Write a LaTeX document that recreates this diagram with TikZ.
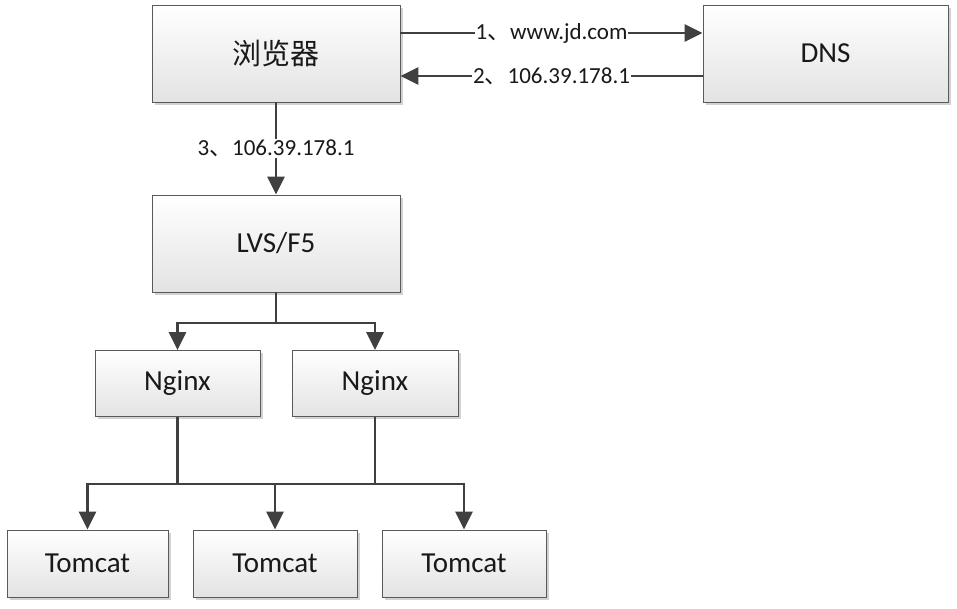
\documentclass[tikz,border=0pt]{standalone}
\usepackage{fontspec}
\setmainfont{Carlito}
\newfontfamily\cjk{Noto Sans CJK SC}
\usetikzlibrary{arrows.meta,shadows}
\begin{document}
\begin{tikzpicture}[x=1pt,y=-1pt,
  box/.style={draw=black!65, line width=0.9pt, top color=white, bottom color=black!11,
    drop shadow={shadow xshift=2.5pt,shadow yshift=-2.5pt,fill=black!35,opacity=0.5},
    inner sep=0pt, text=black!90, font=\fontsize{29}{34}\selectfont},
  line/.style={draw=black!75, line width=2.8pt},
  arrow/.style={line, -{Triangle[length=18pt,width=17pt]}},
  lbl/.style={fill=white, inner sep=1pt, text=black!90, font=\fontsize{23}{27}\selectfont}]
\useasboundingbox (0,0) rectangle (957,608);
\node[box, minimum width=248pt, minimum height=97pt] (browser) at (276,53.5) {\cjk 浏览器};
\node[box, minimum width=245pt, minimum height=97pt] (dns) at (825.5,53.5) {DNS};
\node[box, minimum width=248pt, minimum height=97pt] (lvs) at (276,243.5) {LVS/F5};
\node[box, minimum width=165pt, minimum height=66pt] (ng1) at (177.5,383.5) {Nginx};
\node[box, minimum width=166pt, minimum height=66pt] (ng2) at (375,383.5) {Nginx};
\node[box, minimum width=161pt, minimum height=67pt] (t1) at (87.5,563.5) {Tomcat};
\node[box, minimum width=164pt, minimum height=67pt] (t2) at (275,563.5) {Tomcat};
\node[box, minimum width=164pt, minimum height=67pt] (t3) at (464,563.5) {Tomcat};
\coordinate (b1) at (276,323);
\coordinate (b2) at (275,484);
\draw[arrow] (browser.east |- 0,33) -- node[lbl]{1{\cjk 、}www.jd.com} (dns.west |- 0,33);
\draw[arrow] (dns.west |- 0,76) -- node[lbl]{2{\cjk 、}106.39.178.1} (browser.east |- 0,76);
\draw[arrow] (browser.south) -- node[lbl]{3{\cjk 、}106.39.178.1} (lvs.north);
\draw[line] (lvs.south) -- (b1);
\draw[arrow] (b1) -| (ng1.north);
\draw[arrow] (b1) -| (ng2.north);
\draw[line] (ng1.south) -- (ng1.south |- b2);
\draw[line] (ng2.south) -- (ng2.south |- b2);
\draw[arrow] (b2) -| (t1.north);
\draw[arrow] (b2) -- (t2.north);
\draw[arrow] (b2) -| (t3.north);
\end{tikzpicture}
\end{document}
